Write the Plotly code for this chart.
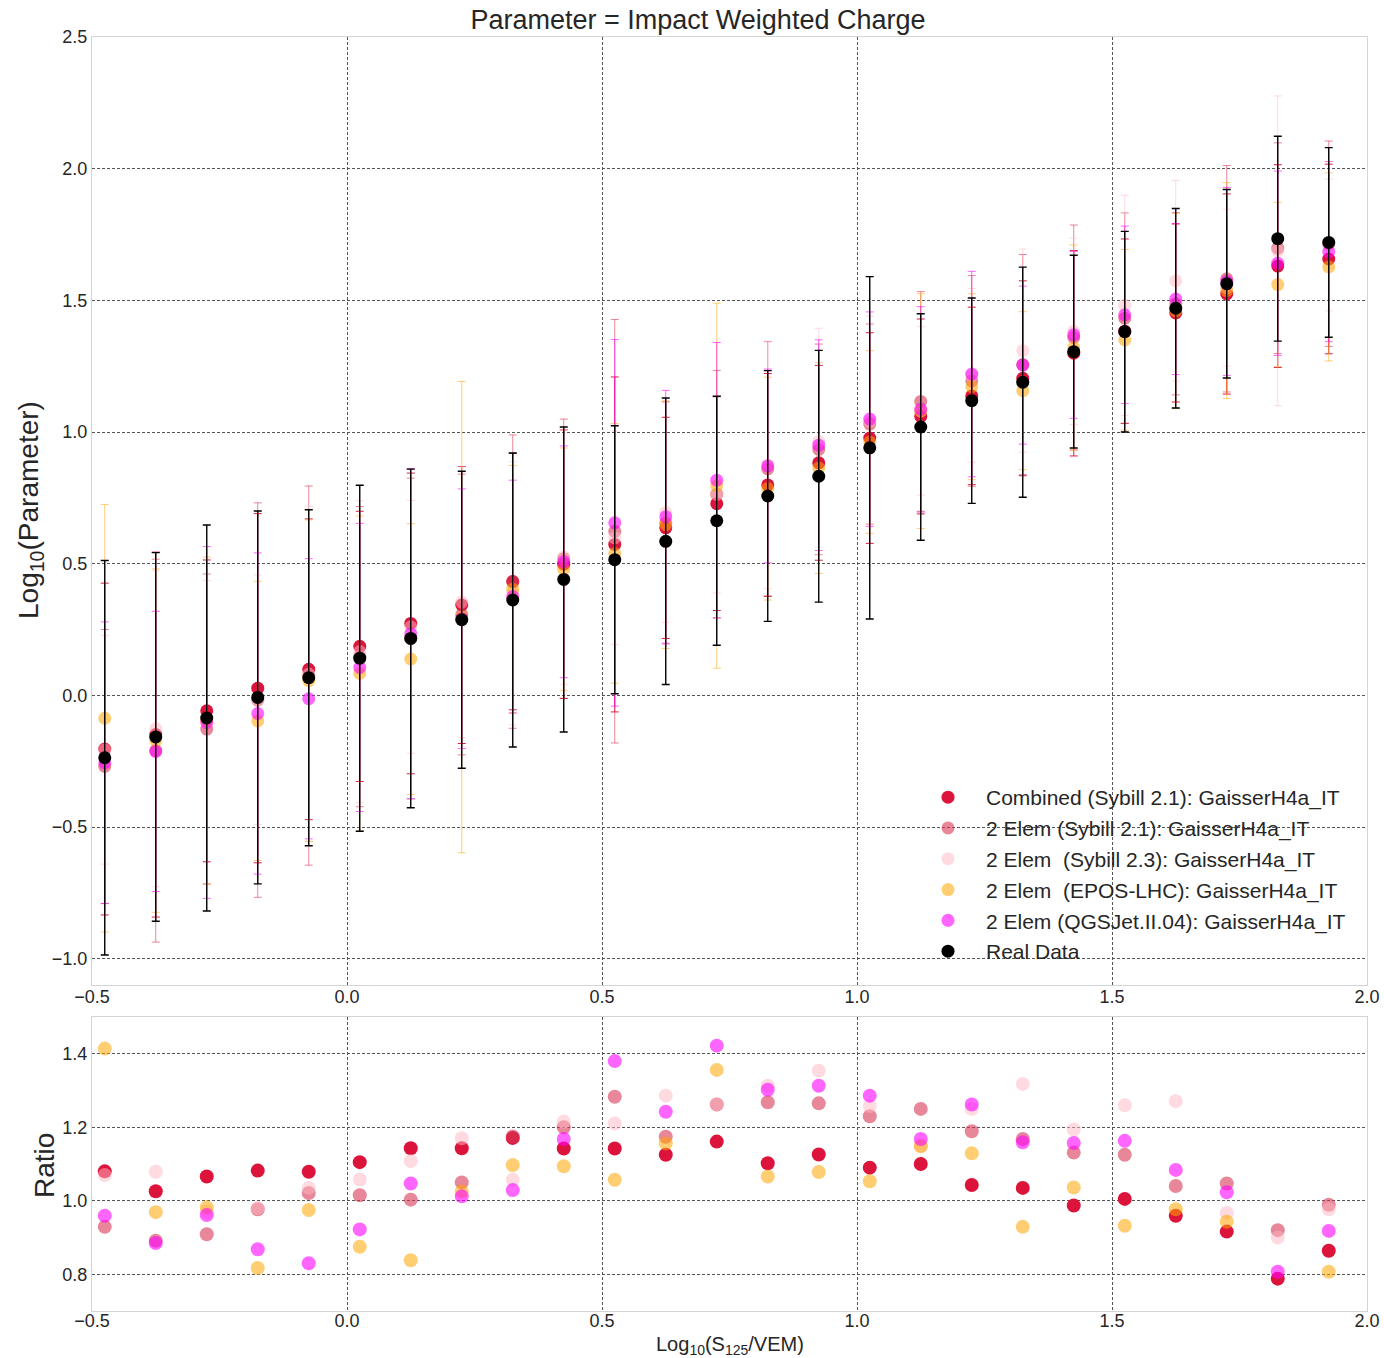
import plotly.graph_objects as go

# ---------------- data ----------------
x_bins = [-0.475, -0.375, -0.275, -0.175, -0.075, 0.025, 0.125, 0.225, 0.325, 0.425,
          0.525, 0.625, 0.725, 0.825, 0.925, 1.025, 1.125, 1.225, 1.325, 1.425,
          1.525, 1.625, 1.725, 1.825, 1.925]

data_val = [-0.237, -0.158, -0.086, -0.008, 0.067, 0.141, 0.216, 0.287, 0.362, 0.440,
            0.515, 0.585, 0.663, 0.757, 0.832, 0.940, 1.019, 1.119, 1.189, 1.305,
            1.381, 1.470, 1.563, 1.734, 1.720]
data_err = [0.749, 0.700, 0.733, 0.708, 0.638, 0.657, 0.643, 0.564, 0.558, 0.579,
            0.509, 0.544, 0.473, 0.476, 0.478, 0.650, 0.430, 0.390, 0.437, 0.366,
            0.381, 0.379, 0.358, 0.389, 0.360]

comb_val = [-0.204, -0.149, -0.059, 0.027, 0.099, 0.186, 0.273, 0.343, 0.432, 0.498,
            0.573, 0.636, 0.728, 0.799, 0.883, 0.977, 1.059, 1.137, 1.204, 1.299,
            1.383, 1.452, 1.524, 1.630, 1.657]
comb_err = [0.630, 0.693, 0.573, 0.663, 0.571, 0.513, 0.571, 0.526, 0.487, 0.510,
            0.636, 0.420, 0.406, 0.423, 0.370, 0.400, 0.370, 0.337, 0.370, 0.390,
            0.350, 0.338, 0.380, 0.385, 0.360]

syb21_val = [-0.270, -0.210, -0.128, -0.018, 0.075, 0.147, 0.216, 0.307, 0.432, 0.519,
             0.623, 0.655, 0.764, 0.860, 0.934, 1.030, 1.116, 1.194, 1.256, 1.359,
             1.432, 1.487, 1.582, 1.698, 1.715]
syb21_err = [0.520, 0.727, 0.589, 0.749, 0.720, 0.570, 0.609, 0.533, 0.557, 0.530,
             0.804, 0.460, 0.470, 0.483, 0.400, 0.380, 0.417, 0.400, 0.418, 0.427,
             0.400, 0.346, 0.430, 0.400, 0.390]

syb23_val = [-0.207, -0.127, -0.100, -0.017, 0.081, 0.166, 0.260, 0.354, 0.387, 0.525,
             0.598, 0.694, 0.763, 0.875, 0.964, 1.040, 1.080, 1.215, 1.309, 1.382,
             1.481, 1.574, 1.548, 1.688, 1.710]
syb23_err = [0.434, 0.600, 0.536, 0.474, 0.637, 0.573, 0.480, 0.514, 0.500, 0.485,
             0.405, 0.417, 0.374, 0.470, 0.430, 0.400, 0.320, 0.330, 0.386, 0.354,
             0.418, 0.381, 0.298, 0.588, 0.250]

epos_val = [-0.087, -0.172, -0.095, -0.097, 0.056, 0.083, 0.138, 0.297, 0.403, 0.479,
            0.539, 0.648, 0.796, 0.785, 0.863, 0.962, 1.079, 1.172, 1.157, 1.320,
            1.350, 1.460, 1.537, 1.560, 1.627]
epos_err = [0.812, 0.652, 0.620, 0.530, 0.610, 0.598, 0.514, 0.895, 0.470, 0.460,
            0.493, 0.470, 0.693, 0.423, 0.400, 0.347, 0.446, 0.353, 0.300, 0.390,
            0.343, 0.370, 0.410, 0.312, 0.357]

qgs_val = [-0.256, -0.213, -0.103, -0.069, -0.013, 0.106, 0.234, 0.291, 0.375, 0.507,
           0.655, 0.678, 0.817, 0.871, 0.950, 1.049, 1.086, 1.220, 1.254, 1.369,
           1.445, 1.505, 1.572, 1.641, 1.685]
qgs_err = [0.535, 0.532, 0.668, 0.610, 0.532, 0.547, 0.627, 0.493, 0.442, 0.440,
           0.696, 0.480, 0.523, 0.368, 0.400, 0.407, 0.390, 0.390, 0.300, 0.317,
           0.337, 0.287, 0.357, 0.350, 0.342]

# ratio panel (model / data)
comb_ratio = [1.080, 1.026, 1.066, 1.082, 1.079, 1.105, 1.143, 1.143, 1.171, 1.142,
              1.142, 1.125, 1.161, 1.102, 1.126, 1.090, 1.100, 1.043, 1.035, 0.987,
              1.005, 0.959, 0.916, 0.788, 0.864]
syb21_ratio = [0.929, 0.891, 0.909, 0.977, 1.021, 1.015, 1.003, 1.050, 1.175, 1.200,
               1.283, 1.174, 1.262, 1.268, 1.265, 1.230, 1.250, 1.189, 1.168, 1.131,
               1.125, 1.040, 1.047, 0.920, 0.989]
syb23_ratio = [1.070, 1.079, 0.970, 0.980, 1.035, 1.058, 1.108, 1.170, 1.057, 1.215,
               1.210, 1.286, 1.262, 1.313, 1.354, 1.258, 1.150, 1.250, 1.318, 1.194,
               1.260, 1.271, 0.967, 0.900, 0.977]
epos_ratio = [1.414, 0.969, 0.982, 0.817, 0.975, 0.875, 0.838, 1.025, 1.097, 1.094,
              1.057, 1.156, 1.356, 1.066, 1.078, 1.053, 1.148, 1.129, 0.929, 1.036,
              0.932, 0.977, 0.943, 0.670, 0.807]
qgs_ratio = [0.959, 0.885, 0.961, 0.868, 0.830, 0.922, 1.047, 1.012, 1.029, 1.168,
             1.380, 1.242, 1.422, 1.302, 1.313, 1.286, 1.168, 1.262, 1.159, 1.157,
             1.163, 1.084, 1.023, 0.807, 0.918]

series_names = [
    "Combined (Sybill 2.1): GaisserH4a_IT",
    "2 Elem (Sybill 2.1): GaisserH4a_IT",
    "2 Elem\u00a0 (Sybill 2.3): GaisserH4a_IT",
    "2 Elem\u00a0 (EPOS-LHC): GaisserH4a_IT",
    "2 Elem (QGSJet.II.04): GaisserH4a_IT",
    "Real Data",
]

# ---------------- styles ----------------
styles = [
    dict(mc="rgb(220,20,60)", ec="rgba(220,20,60,0.95)"),
    dict(mc="rgba(215,55,85,0.6)", ec="rgba(215,55,85,0.6)"),
    dict(mc="rgba(255,182,193,0.5)", ec="rgba(255,182,193,0.5)"),
    dict(mc="rgba(255,165,0,0.55)", ec="rgba(255,165,0,0.55)"),
    dict(mc="rgba(255,0,255,0.6)", ec="rgba(255,0,255,0.6)"),
    dict(mc="black", ec="black"),
]

main_vals = [comb_val, syb21_val, syb23_val, epos_val, qgs_val, data_val]
main_errs = [comb_err, syb21_err, syb23_err, epos_err, qgs_err, data_err]
ratios = [comb_ratio, syb21_ratio, syb23_ratio, epos_ratio, qgs_ratio]

FONT = "Liberation Sans, Arial, sans-serif"
TXT = "#262626"

fig = go.Figure()

for i, (name, vals, errs, st) in enumerate(zip(series_names, main_vals, main_errs, styles)):
    fig.add_trace(go.Scatter(
        x=x_bins, y=vals, mode="markers", name=name,
        legendgroup=f"g{i}",
        marker=dict(size=13, color=st["mc"], line=dict(width=0)),
        error_y=dict(type="data", array=errs, visible=True, color=st["ec"],
                     thickness=1.4 if i == 5 else 1.0, width=4),
        xaxis="x", yaxis="y",
    ))

for i, (vals, st) in enumerate(zip(ratios, styles[:5])):
    fig.add_trace(go.Scatter(
        x=x_bins, y=vals, mode="markers", showlegend=False,
        marker=dict(size=14, color=st["mc"], line=dict(width=0)),
        xaxis="x2", yaxis="y2", cliponaxis=True,
    ))

grid = dict(showgrid=True, gridcolor="#555555", gridwidth=0.8, griddash="3px,2px",
            zeroline=False, showline=True, mirror=True, linecolor="#d4d4d4",
            linewidth=1.2, ticks="", automargin=False,
            tickfont=dict(size=18, color=TXT, family=FONT))

W, H = 1384, 1358
left_px, right_px = 92, 1367
top_px, main_bot, ratio_top, ratio_bot = 37, 985, 1017, 1311
plot_w = right_px - left_px
plot_h = ratio_bot - top_px


def px_to_paper(px, py):
    return (px - left_px) / plot_w, (ratio_bot - py) / plot_h


leg_x, leg_y = px_to_paper(910, 777)

fig.update_layout(
    width=W, height=H, autosize=False,
    margin=dict(l=left_px, r=W - right_px, t=top_px, b=H - ratio_bot, autoexpand=False),
    paper_bgcolor="white", plot_bgcolor="white",
    font=dict(family=FONT, color=TXT),
    showlegend=True,
    title=dict(text="Parameter = Impact Weighted Charge", x=698 / W, xref="container",
               xanchor="center", y=1 - 20 / H, yref="container", yanchor="middle",
               font=dict(size=27, color=TXT, family=FONT)),
    xaxis=dict(domain=[0, 1], range=[-0.5, 2.0], dtick=0.5, tick0=0, tickformat=".1f",
               anchor="y", ticklabelstandoff=-5, **grid),
    yaxis=dict(domain=[(ratio_bot - main_bot) / plot_h, 1], range=[-1.1, 2.5], dtick=0.5,
               tick0=0, tickformat=".1f", anchor="x", **grid),
    xaxis2=dict(domain=[0, 1], range=[-0.5, 2.0], dtick=0.5, tick0=0, tickformat=".1f",
                anchor="y2", ticklabelstandoff=-7, **grid),
    yaxis2=dict(domain=[0, (ratio_bot - ratio_top) / plot_h], range=[0.7, 1.5], dtick=0.2,
                tick0=0, tickformat=".1f", anchor="x2", **grid),
    legend=dict(x=leg_x, xanchor="left", y=leg_y, yanchor="top",
                bgcolor="rgba(0,0,0,0)", borderwidth=0,
                font=dict(size=21, color=TXT, family=FONT), tracegroupgap=0.5,
                itemwidth=66),
)

ax1, ay1 = px_to_paper(30, 510)
ax2, ay2 = px_to_paper(44, 1166)
ax3, ay3 = px_to_paper(730, 1345)
fig.add_annotation(text="Log<sub>10</sub>(Parameter)", x=ax1, y=ay1, xref="paper", yref="paper",
                   showarrow=False, textangle=-90, xanchor="center", yanchor="middle",
                   font=dict(size=28, color=TXT, family=FONT))
fig.add_annotation(text="Ratio", x=ax2, y=ay2, xref="paper", yref="paper",
                   showarrow=False, textangle=-90, xanchor="center", yanchor="middle",
                   font=dict(size=28, color=TXT, family=FONT))
fig.add_annotation(text="Log<sub>10</sub>(S<sub>125</sub>/VEM)", x=ax3, y=ay3, xref="paper",
                   yref="paper", showarrow=False, xanchor="center", yanchor="middle",
                   font=dict(size=20, color=TXT, family=FONT))

fig.write_html("out.html")
